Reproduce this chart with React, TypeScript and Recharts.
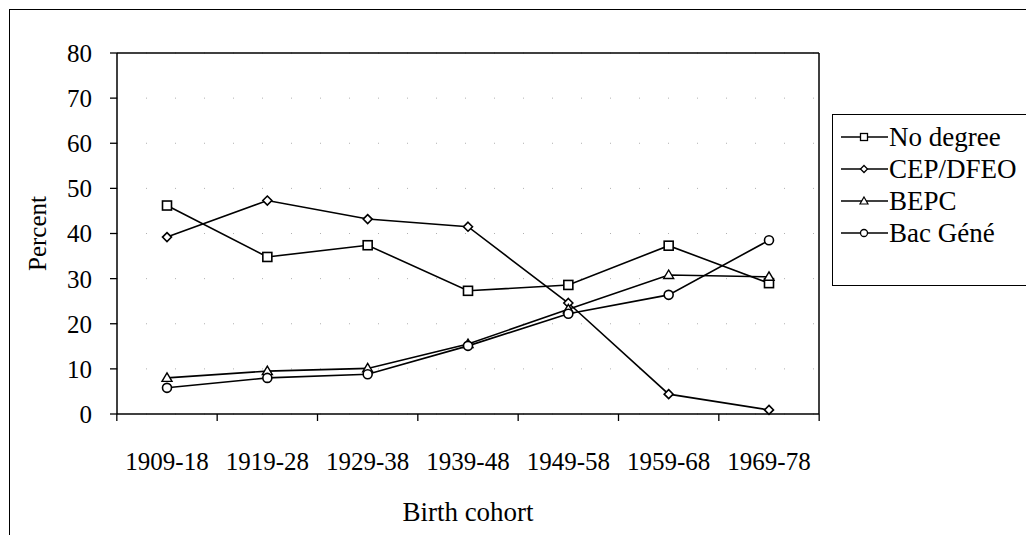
import React from 'react';
import { LineChart, Line, XAxis, YAxis, CartesianGrid, Label } from 'recharts';

const categories = ['1909-18', '1919-28', '1929-38', '1939-48', '1949-58', '1959-68', '1969-78'];
const noDegree = [46.2, 34.8, 37.4, 27.3, 28.6, 37.3, 29.0];
const cepDfeo = [39.2, 47.3, 43.2, 41.5, 24.6, 4.4, 0.9];
const bepc = [8.0, 9.5, 10.1, 15.5, 23.2, 30.8, 30.4];
const bacGene = [5.8, 8.0, 8.8, 15.1, 22.2, 26.4, 38.5];
const yTicks = [0, 10, 20, 30, 40, 50, 60, 70, 80];
// category boundaries (tick marks sit between cohorts)
const bandEdges = [-0.5, 0.5, 1.5, 2.5, 3.5, 4.5, 5.5, 6.5];

const data = categories.map((c, i) => ({
  cohort: c,
  noDegree: noDegree[i],
  cep: cepDfeo[i],
  bepc: bepc[i],
  bac: bacGene[i],
}));

const FONT = '"Liberation Serif", "Times New Roman", serif';

const SquareDot = (p: any) => {
  const { cx, cy, index } = p;
  if (cx == null || cy == null) return <g key={index} />;
  return <rect key={index} x={cx - 4.5} y={cy - 4.5} width={9} height={9} fill="#fff" stroke="#000" strokeWidth={1.6} />;
};
const DiamondDot = (p: any) => {
  const { cx, cy, index } = p;
  if (cx == null || cy == null) return <g key={index} />;
  const r = 4.5;
  return <path key={index} d={`M${cx},${cy - r}L${cx + r},${cy}L${cx},${cy + r}L${cx - r},${cy}Z`} fill="#fff" stroke="#000" strokeWidth={1.6} />;
};
const TriangleDot = (p: any) => {
  const { cx, cy, index } = p;
  if (cx == null || cy == null) return <g key={index} />;
  const r = 5;
  return <path key={index} d={`M${cx},${cy - r}L${cx + r},${cy + r * 0.7}L${cx - r},${cy + r * 0.7}Z`} fill="#fff" stroke="#000" strokeWidth={1.4} />;
};
const CircleDot = (p: any) => {
  const { cx, cy, index } = p;
  if (cx == null || cy == null) return <g key={index} />;
  return <circle key={index} cx={cx} cy={cy} r={4.5} fill="#fff" stroke="#000" strokeWidth={1.6} />;
};

const legendItems = [
  { label: 'No degree', shape: 'square' },
  { label: 'CEP/DFEO', shape: 'diamond' },
  { label: 'BEPC', shape: 'triangle' },
  { label: 'Bac Géné', shape: 'circle' },
];

const LegendIcon = ({ shape }: { shape: string }) => {
  const cx = 23;
  const cy = 10;
  let m: React.ReactNode = null;
  if (shape === 'square') m = <rect x={cx - 3.5} y={cy - 3.5} width={7} height={7} fill="#fff" stroke="#000" strokeWidth={1.3} />;
  if (shape === 'diamond') m = <path d={`M${cx},${cy - 3.5}L${cx + 3.5},${cy}L${cx},${cy + 3.5}L${cx - 3.5},${cy}Z`} fill="#fff" stroke="#000" strokeWidth={1.3} />;
  if (shape === 'triangle') m = <path d={`M${cx},${cy - 4}L${cx + 4},${cy + 3}L${cx - 4},${cy + 3}Z`} fill="#fff" stroke="#000" strokeWidth={1.2} />;
  if (shape === 'circle') m = <circle cx={cx} cy={cy} r={3.5} fill="#fff" stroke="#000" strokeWidth={1.3} />;
  return (
    <svg width={47} height={20} style={{ display: 'block', flex: 'none' }}>
      <line x1={0} y1={cy} x2={47} y2={cy} stroke="#000" strokeWidth={1.5} />
      {m}
    </svg>
  );
};

const ChartLegend = () => (
  <div
    style={{
      position: 'absolute',
      left: 824,
      top: 106,
      border: '1.5px solid #000',
      background: '#fff',
      width: 280,
      height: 172,
      boxSizing: 'border-box',
      paddingTop: 6,
      paddingLeft: 8,
      fontFamily: FONT,
      fontSize: 27,
      color: '#000',
    }}
  >
    {legendItems.map((it) => (
      <div key={it.label} style={{ display: 'flex', alignItems: 'center', height: 32, whiteSpace: 'nowrap' }}>
        <LegendIcon shape={it.shape} />
        <span style={{ marginLeft: 1, lineHeight: '32px' }}>{it.label}</span>
      </div>
    ))}
  </div>
);

const renderYLabel = (props: any) => {
  const vb = props.viewBox || {};
  const y = (vb.y ?? 45) + (vb.height ?? 361) / 2;
  const x = 29;
  return (
    <text
      x={x}
      y={y}
      transform={`rotate(-90, ${x}, ${y})`}
      textAnchor="middle"
      dominantBaseline="central"
      fontFamily={FONT}
      fontSize={25}
      fill="#000"
    >
      Percent
    </text>
  );
};

const EmptyTick = () => <g />;

export default function App() {
  return (
    <div style={{ position: 'relative', width: 1026, height: 527, overflow: 'hidden', background: '#fff', fontFamily: FONT }}>
      <div
        style={{
          position: 'absolute',
          left: 1,
          top: 1,
          width: 1100,
          height: 700,
          border: '1.5px solid #000',
          boxSizing: 'border-box',
        }}
      />
      <LineChart
        width={1026}
        height={527}
        data={data}
        margin={{ top: 44, right: 214, left: 49, bottom: 11 }}
        style={{ position: 'absolute', left: 0, top: 0, fontFamily: FONT }}
      >
        <CartesianGrid xAxisId="z_cat" vertical={false} horizontal stroke="#b0b0b0" strokeDasharray="1 28" />
        <XAxis
          xAxisId="z_cat"
          dataKey="cohort"
          height={109}
          padding={{ left: 50, right: 50 }}
          tickSize={0}
          tickMargin={37}
          interval={0}
          axisLine={false}
          tickLine={false}
          tick={{ fontSize: 25, fill: '#000', fontFamily: FONT }}
          label={{ value: 'Birth cohort', position: 'insideBottom', offset: 3, fontSize: 27, fill: '#000', fontFamily: FONT }}
        />
        <XAxis
          xAxisId="a_edges"
          type="number"
          domain={[0, 6]}
          allowDataOverflow
          padding={{ left: 50, right: 50 }}
          ticks={bandEdges}
          interval={0}
          height={1}
          tickSize={7}
          tick={EmptyTick}
          axisLine={{ stroke: '#000', strokeWidth: 1.5 }}
          tickLine={{ stroke: '#000', strokeWidth: 1.3 }}
        />
        <XAxis
          xAxisId="top"
          orientation="top"
          dataKey="cohort"
          height={1}
          tick={EmptyTick}
          tickLine={false}
          axisLine={{ stroke: '#000', strokeWidth: 1.5 }}
        />
        <YAxis
          width={60}
          domain={[0, 80]}
          ticks={yTicks}
          interval={0}
          tickSize={7}
          tickMargin={18}
          axisLine={{ stroke: '#000', strokeWidth: 1.5 }}
          tickLine={{ stroke: '#000', strokeWidth: 1.3 }}
          tick={{ fontSize: 25, fill: '#000', fontFamily: FONT }}
        >
          <Label content={renderYLabel} />
        </YAxis>
        <YAxis
          yAxisId="right"
          orientation="right"
          width={1}
          domain={[0, 80]}
          ticks={yTicks}
          tick={EmptyTick}
          tickLine={false}
          axisLine={{ stroke: '#000', strokeWidth: 1.5 }}
        />
        <Line xAxisId="z_cat" dataKey="noDegree" name="No degree" stroke="#000" strokeWidth={1.6} dot={SquareDot} activeDot={false} isAnimationActive={false} />
        <Line xAxisId="z_cat" dataKey="cep" name="CEP/DFEO" stroke="#000" strokeWidth={1.6} dot={DiamondDot} activeDot={false} isAnimationActive={false} />
        <Line xAxisId="z_cat" dataKey="bepc" name="BEPC" stroke="#000" strokeWidth={1.6} dot={TriangleDot} activeDot={false} isAnimationActive={false} />
        <Line xAxisId="z_cat" dataKey="bac" name="Bac Géné" stroke="#000" strokeWidth={1.6} dot={CircleDot} activeDot={false} isAnimationActive={false} />
      </LineChart>
      <ChartLegend />
    </div>
  );
}
